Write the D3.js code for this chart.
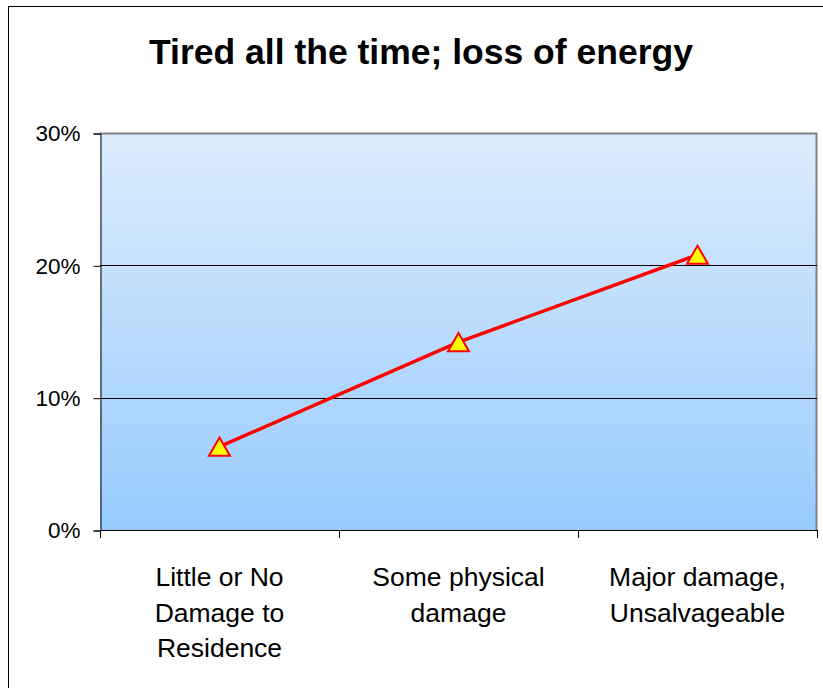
<!DOCTYPE html>
<html>
<head>
<meta charset="utf-8">
<script src="https://cdn.jsdelivr.net/npm/d3@7"></script>
<style>
  html, body { margin: 0; padding: 0; background: #ffffff; }
  svg { display: block; font-family: "Liberation Sans", Arial, sans-serif; }
</style>
</head>
<body>
<svg id="chart" width="823" height="688"></svg>
<script>
// Chart data
const categories = [
  ["Little or No", "Damage to", "Residence"],
  ["Some physical", "damage"],
  ["Major damage,", "Unsalvageable"]
];
const values = [0.063, 0.142, 0.208];
const yTicks = [0, 0.1, 0.2, 0.3];
const title = "Tired all the time; loss of energy";

const svg = d3.select("#chart");
const W = 823, H = 688;
const plot = { left: 100, top: 133, right: 817, bottom: 530 };

// Outer chart frame
svg.append("rect")
  .attr("x", 8.5).attr("y", 6.5)
  .attr("width", W + 10).attr("height", H + 10)
  .attr("fill", "#ffffff").attr("stroke", "#000000").attr("stroke-width", 1);

// Plot background gradient
const defs = svg.append("defs");
const grad = defs.append("linearGradient")
  .attr("id", "plotBg").attr("x1", 0).attr("y1", 0).attr("x2", 0).attr("y2", 1);
grad.append("stop").attr("offset", "0%").attr("stop-color", "#dcecfc");
grad.append("stop").attr("offset", "100%").attr("stop-color", "#98cbfe");

const x = d3.scaleBand()
  .domain(d3.range(categories.length))
  .range([plot.left, plot.right]);
const y = d3.scaleLinear().domain([0, 0.3]).range([plot.bottom, plot.top]);

svg.append("rect")
  .attr("x", plot.left).attr("y", plot.top)
  .attr("width", plot.right - plot.left).attr("height", plot.bottom - plot.top)
  .attr("fill", "url(#plotBg)");

// Plot border (top and right in grey)
svg.append("path")
  .attr("d", `M${plot.left},${plot.top + 0.5}H${plot.right - 0.5}V${plot.bottom}`)
  .attr("fill", "none").attr("stroke", "#808080").attr("stroke-width", 2);

// Gridlines
svg.append("g")
  .selectAll("line")
  .data(yTicks.filter(t => t > 0 && t < 0.3))
  .join("line")
  .attr("x1", plot.left).attr("x2", plot.right)
  .attr("y1", d => Math.round(y(d)) + 0.5).attr("y2", d => Math.round(y(d)) + 0.5)
  .attr("stroke", "#000000").attr("stroke-width", 1);

// Y axis
const yAxis = d3.axisLeft(y)
  .tickValues(yTicks)
  .tickFormat(d3.format(".0%"))
  .tickSize(7).tickPadding(13);
const gy = svg.append("g").attr("transform", `translate(${plot.left + 0.5},0.5)`).call(yAxis);
gy.select(".domain").attr("stroke", "#000");
gy.selectAll(".tick line").attr("stroke", "#000");
gy.selectAll(".tick text")
  .attr("font-size", 22.5).attr("fill", "#000")
  .attr("font-family", "'Liberation Sans', Arial, sans-serif");

// X axis with tick marks on band boundaries
const gx = svg.append("g");
gx.append("line")
  .attr("x1", plot.left).attr("x2", plot.right)
  .attr("y1", plot.bottom + 0.5).attr("y2", plot.bottom + 0.5)
  .attr("stroke", "#000").attr("stroke-width", 1);
const bounds = d3.range(categories.length + 1).map(i =>
  i < categories.length ? x(i) : x(i - 1) + x.bandwidth());
gx.selectAll("line.tk")
  .data(bounds)
  .join("line").attr("class", "tk")
  .attr("x1", d => Math.round(d) + 0.5).attr("x2", d => Math.round(d) + 0.5)
  .attr("y1", plot.bottom).attr("y2", plot.bottom + 8)
  .attr("stroke", "#000");

// Category labels
const lab = svg.append("g")
  .attr("font-size", 26.5).attr("fill", "#000").attr("text-anchor", "middle");
categories.forEach((lines, i) => {
  const cx = x(i) + x.bandwidth() / 2;
  const t = lab.append("text").attr("x", cx).attr("y", 586);
  lines.forEach((s, j) => {
    t.append("tspan").attr("x", cx).attr("dy", j === 0 ? 0 : 35.5).text(s);
  });
});

// Series line
const line = d3.line()
  .x((d, i) => x(i) + x.bandwidth() / 2)
  .y(d => y(d));
svg.append("path")
  .datum(values)
  .attr("d", line)
  .attr("fill", "none").attr("stroke", "#ff0000").attr("stroke-width", 3.5);

// Triangle markers, centred on their bounding box
const triSize = 190;
const side = Math.sqrt(triSize * 4 / Math.sqrt(3));
const triH = side * Math.sqrt(3) / 2;
const tri = d3.symbol().type(d3.symbolTriangle).size(triSize);
svg.append("g")
  .selectAll("path")
  .data(values)
  .join("path")
  .attr("d", tri)
  .attr("transform", (d, i) => `translate(${x(i) + x.bandwidth() / 2},${y(d) + triH / 6})`)
  .attr("fill", "#ffff00").attr("stroke", "#ff0000").attr("stroke-width", 2);

// Title
svg.append("text")
  .attr("x", 421).attr("y", 64)
  .attr("text-anchor", "middle")
  .attr("font-size", 35.5).attr("font-weight", "bold").attr("fill", "#000")
  .text(title);
</script>
</body>
</html>
